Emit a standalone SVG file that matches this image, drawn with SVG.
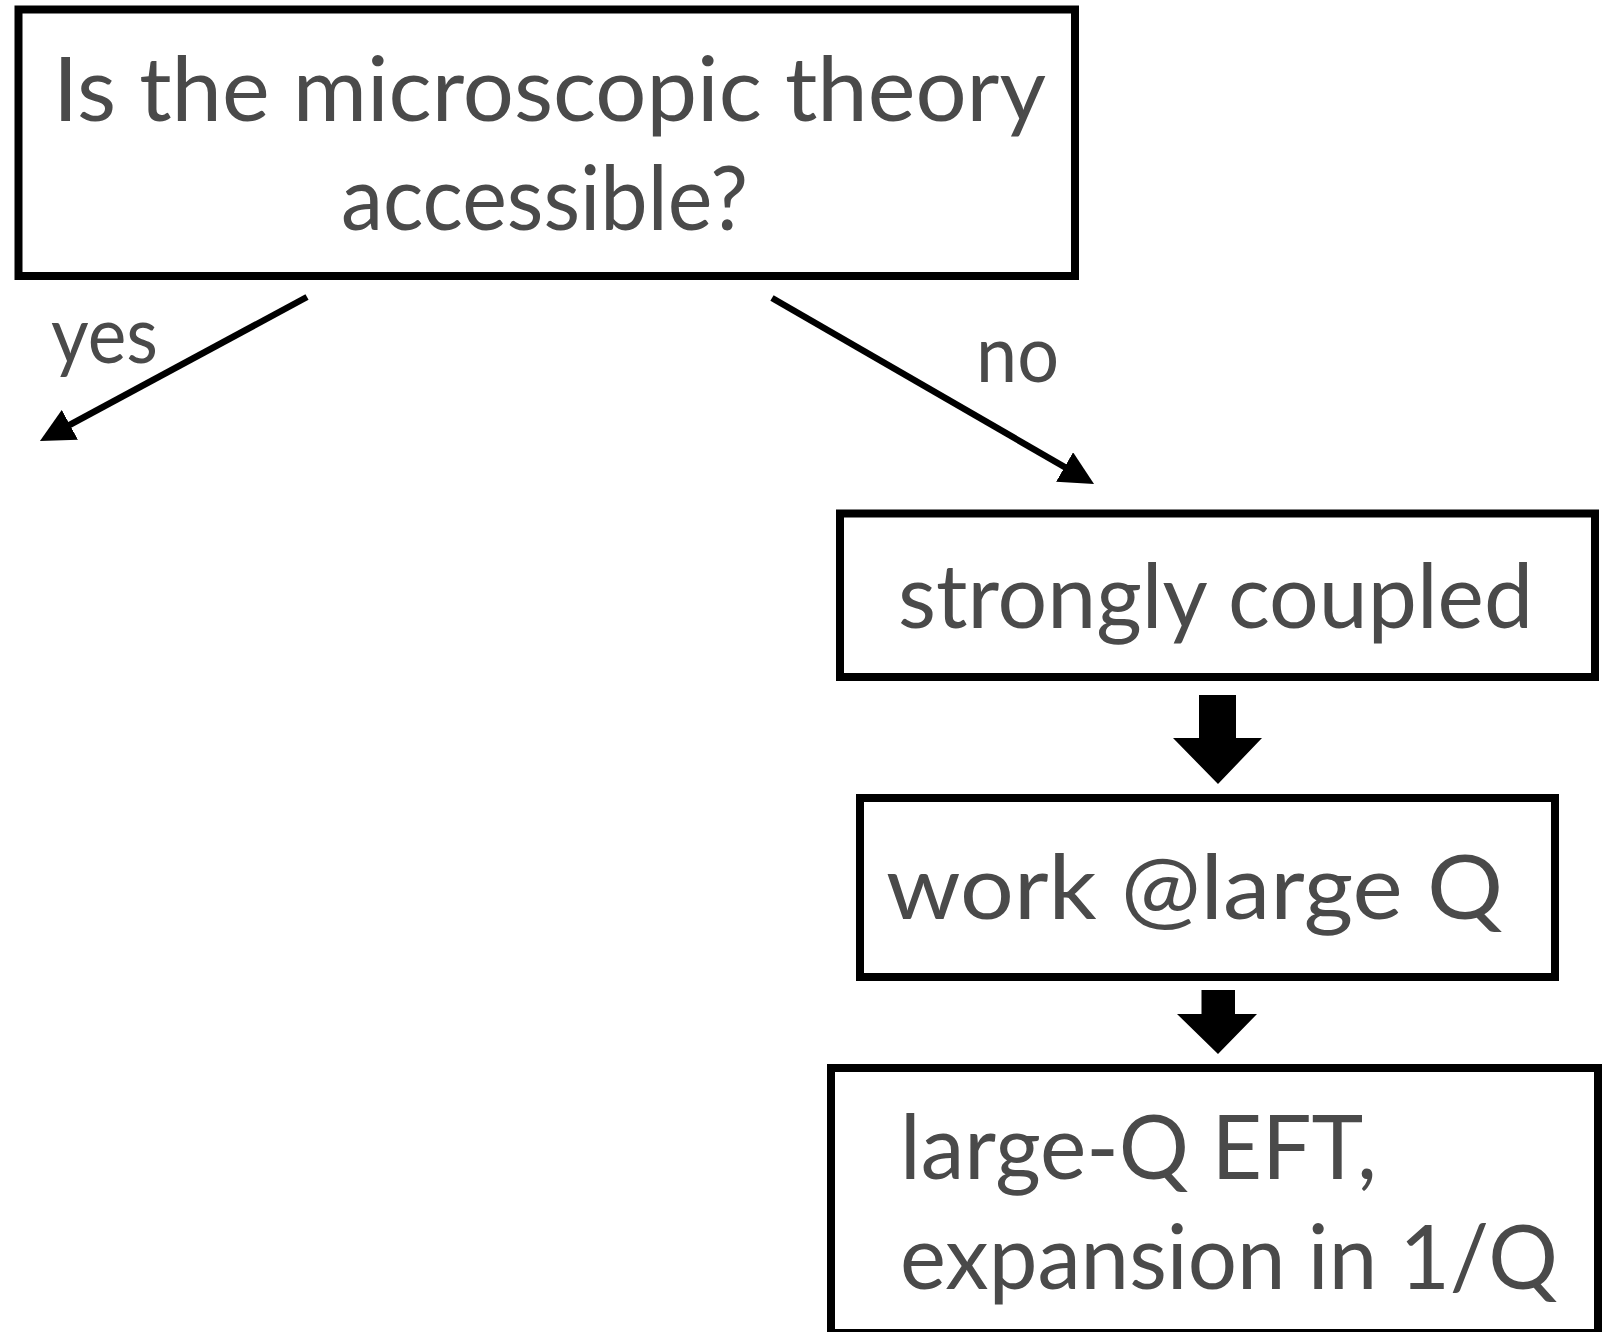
<svg xmlns="http://www.w3.org/2000/svg" width="1607" height="1332" viewBox="0 0 1607 1332">
  <style>
    .box { fill: #ffffff; stroke: #000000; stroke-width: 8; }
    .t { font-family: Lato, "Open Sans", "Liberation Sans", sans-serif; font-size: 90px; fill: #4a4a4a; }
    .lbl { font-family: Lato, "Open Sans", "Liberation Sans", sans-serif; font-size: 80px; fill: #4a4a4a; }
    .conn { stroke: #000000; stroke-width: 6.5; fill: none; }
    .block { fill: #000000; }
  </style>
  <defs>
    <marker id="ah" markerUnits="userSpaceOnUse" markerWidth="34" markerHeight="34" refX="26" refY="17" orient="auto" viewBox="0 0 34 34">
      <path d="M0,0 L34,17 L0,34 Z" fill="#000000"/>
    </marker>
  </defs>
  <rect width="1607" height="1332" fill="#ffffff"/>

  <g id="node-question">
    <rect class="box" x="18.5" y="9.5" width="1056.5" height="266.5"/>
    <text class="t" x="53" y="121" textLength="993" lengthAdjust="spacingAndGlyphs">Is the microscopic theory</text>
    <text class="t" x="341" y="230" textLength="407" lengthAdjust="spacingAndGlyphs">accessible?</text>
  </g>

  <g id="node-strong">
    <rect class="box" x="840" y="513.5" width="755" height="163.5"/>
    <text class="t" x="898" y="627.5" textLength="635" lengthAdjust="spacingAndGlyphs">strongly coupled</text>
  </g>

  <g id="node-largeQ">
    <rect class="box" x="860" y="798" width="695" height="179"/>
    <text class="t" x="886" y="919" textLength="617" lengthAdjust="spacingAndGlyphs">work @large Q</text>
  </g>

  <g id="node-eft">
    <rect class="box" x="831" y="1068" width="767" height="265"/>
    <text class="t" x="900" y="1179" textLength="477" lengthAdjust="spacingAndGlyphs">large-Q EFT,</text>
    <text class="t" x="900" y="1289" textLength="658" lengthAdjust="spacingAndGlyphs">expansion in 1/Q</text>
  </g>

  <g id="connectors">
    <line class="conn" x1="307" y1="297" x2="47" y2="437.2" marker-end="url(#ah)"/>
    <line class="conn" x1="772" y1="298" x2="1087.1" y2="480" marker-end="url(#ah)"/>
    <path class="block" d="M1199,695 H1236 V738 H1262 L1218,784 L1173,738 H1199 Z"/>
    <path class="block" d="M1201.5,990 H1235 V1014 H1257 L1218,1054 L1177,1014 H1201.5 Z"/>
    <text class="lbl" x="51" y="363" textLength="107" lengthAdjust="spacingAndGlyphs">yes</text>
    <text class="lbl" x="976" y="382" textLength="83" lengthAdjust="spacingAndGlyphs">no</text>
  </g>
</svg>
